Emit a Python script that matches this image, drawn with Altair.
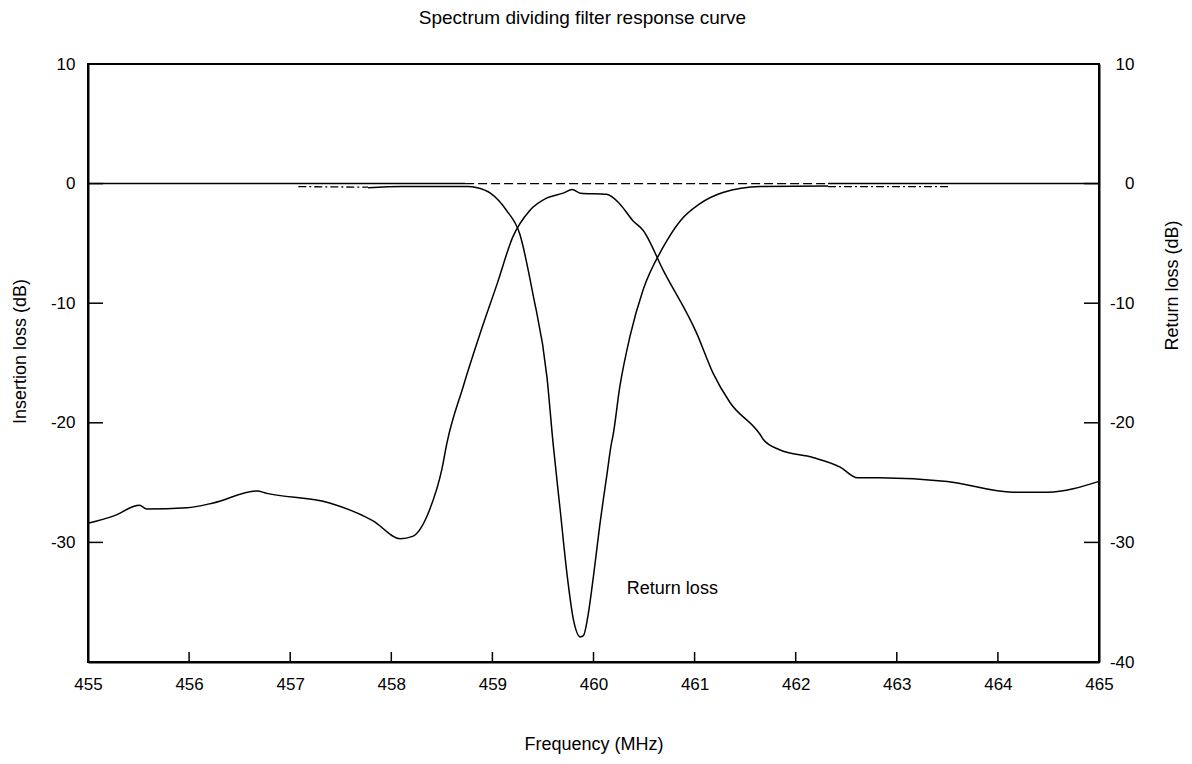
import altair as alt
import pandas as pd

# ---- data ----
# Curve A: low-side passband, falling into the return-loss dip, then rising to the high-side passband
A_FREQ = [457.77, 458.10, 458.75, 458.85, 458.98, 459.14, 459.27, 459.40, 459.54, 459.60,
          459.67, 459.74, 459.80, 459.87, 459.90, 459.94, 460.00, 460.06, 460.13, 460.18,
          460.19, 460.26, 460.36, 460.49, 460.69, 460.86, 461.05, 461.28, 461.65, 462.32]
A_LOSS = [-0.35, -0.25, -0.25, -0.35, -0.8, -2.25, -4.2, -9.2, -16.2, -21.7,
          -27.25, -32.8, -36.4, -37.9, -37.8, -36.4, -32.8, -28.7, -24.5, -21.6,
          -21.2, -17.0, -12.8, -8.9, -5.3, -3.1, -1.7, -0.75, -0.25, -0.2]

# Curve B: centre channel, low at both edges, passband around 460 MHz
B_FREQ = [455.00, 455.25, 455.51, 455.58, 455.98, 456.24, 456.67, 456.77, 457.39, 457.82,
          458.09, 458.21, 458.38, 458.50, 458.55, 458.71, 458.88, 459.05, 459.20, 459.37,
          459.54, 459.70, 459.79, 459.87, 460.13, 460.26, 460.39, 460.49, 460.69, 461.02,
          461.18, 461.35, 461.65, 461.68, 461.84, 462.17, 462.44, 462.61, 462.83, 463.50,
          464.15, 464.49, 465.00]
B_LOSS = [-28.4, -27.8, -26.9, -27.2, -27.1, -26.7, -25.7, -25.9, -26.7, -28.2,
          -29.7, -29.5, -27.25, -23.9, -21.7, -17.0, -12.5, -8.3, -4.5, -2.25,
          -1.2, -0.8, -0.5, -0.8, -0.9, -1.7, -3.1, -3.9, -7.25, -12.5,
          -15.8, -18.3, -21.0, -21.4, -22.25, -22.9, -23.7, -24.6, -24.6, -24.9,
          -25.8, -25.8, -24.9]

# dash-dot extensions of curve A's passbands
EXT_LOW_FREQ = [457.08, 457.77]
EXT_LOW_LOSS = [-0.25, -0.3]
EXT_HIGH_FREQ = [462.32, 463.51]
EXT_HIGH_LOSS = [-0.25, -0.25]

# 0 dB reference line pieces
ZERO_SOLID_1 = [455.0, 458.73]
ZERO_DASHED = [458.73, 462.32]
ZERO_SOLID_2 = [462.32, 465.0]

X_TICKS = [455, 456, 457, 458, 459, 460, 461, 462, 463, 464, 465]
LEFT_TICKS = [10, 0, -10, -20, -30]
RIGHT_TICKS = [10, 0, -10, -20, -30, -40]

ANNOT_TEXT = ["Return loss"]
ANNOT_FREQ = [460.78]
ANNOT_LOSS = [-33.9]

W, H = 1011, 598
FONT = "Liberation Sans"


def frame(name, xs, ys):
    return pd.DataFrame({"f": xs, "db": ys, "series": name, "i": list(range(len(xs)))})


solid_df = pd.concat([
    frame("A", A_FREQ, A_LOSS),
    frame("B", B_FREQ, B_LOSS),
], ignore_index=True)
zero_df = pd.concat([
    frame("zero1", ZERO_SOLID_1, [0, 0]),
    frame("zero2", ZERO_SOLID_2, [0, 0]),
], ignore_index=True)
dashed_df = frame("zero_dash", ZERO_DASHED, [0, 0])
dashdot_df = pd.concat([
    frame("ext_low", EXT_LOW_FREQ, EXT_LOW_LOSS),
    frame("ext_high", EXT_HIGH_FREQ, EXT_HIGH_LOSS),
], ignore_index=True)

xs = alt.Scale(domain=[455, 465], nice=False, zero=False)
ys = alt.Scale(domain=[-40, 10], nice=False, zero=False)

x_axis = alt.Axis(values=X_TICKS, ticks=False, grid=False, labelPadding=14,
                  labelFlush=False,
                  title="Frequency (MHz)", titleY=82, titleBaseline="middle",
                  labelExpr="datum.value + ''")
left_axis = alt.Axis(orient="left", values=LEFT_TICKS, ticks=False, grid=False,
                     labelPadding=13, title="Insertion loss (dB)",
                     labelExpr="datum.value + ''", labelFlush=False,
                     titleX=-68, titleY=287, titleBaseline="middle")
right_axis = alt.Axis(orient="right", values=RIGHT_TICKS, ticks=False, grid=False,
                      labelPadding=35, labelAlign="right", title="Return loss (dB)",
                      labelExpr="datum.value + ''", labelFlush=False,
                      titleAngle=270, titleX=73, titleY=221, titleBaseline="middle")

X = alt.X("f:Q", scale=xs, axis=x_axis)

solid = alt.Chart(solid_df).mark_line(color="black", strokeWidth=1.5,
                                      interpolate="monotone").encode(
    x=X,
    y=alt.Y("db:Q", scale=ys, axis=left_axis),
    detail="series:N",
    order="i:Q",
)

zero = alt.Chart(zero_df).mark_line(color="black", strokeWidth=1.5).encode(
    x=X,
    y=alt.Y("db:Q", scale=ys, axis=None),
    detail="series:N",
    order="i:Q",
)

right_ticks = alt.Chart(pd.DataFrame({"v": RIGHT_TICKS})).mark_rule(
    color="black", strokeWidth=1.5).encode(
    y=alt.Y("v:Q", scale=ys, axis=right_axis),
    x=alt.value(W),
    x2=alt.value(W - 15),
)

dashed = alt.Chart(dashed_df).mark_line(color="black", strokeWidth=1.3,
                                        strokeDash=[9, 4]).encode(
    x=X,
    y=alt.Y("db:Q", scale=ys, axis=None),
    order="i:Q",
)

dashdot = alt.Chart(dashdot_df).mark_line(color="black", strokeWidth=1.3,
                                          strokeDash=[8, 3, 2, 3]).encode(
    x=X,
    y=alt.Y("db:Q", scale=ys, axis=None),
    detail="series:N",
    order="i:Q",
)

left_ticks = alt.Chart(pd.DataFrame({"v": LEFT_TICKS})).mark_rule(
    color="black", strokeWidth=1.5).encode(
    y=alt.Y("v:Q", scale=ys, axis=None),
    x=alt.value(0),
    x2=alt.value(15),
)

bottom_ticks = alt.Chart(pd.DataFrame({"f": X_TICKS})).mark_rule(
    color="black", strokeWidth=1.5).encode(
    x=X,
    y=alt.value(H),
    y2=alt.value(H - 10),
)

annot = alt.Chart(pd.DataFrame({"t": ANNOT_TEXT, "f": ANNOT_FREQ, "db": ANNOT_LOSS})).mark_text(
    font=FONT, fontSize=18, color="black", align="center", baseline="middle").encode(
    x=X,
    y=alt.Y("db:Q", scale=ys, axis=None),
    text="t:N",
)

chart = alt.layer(
    solid, right_ticks, zero, dashed, dashdot, left_ticks, bottom_ticks, annot
).resolve_scale(y="independent").properties(
    width=W, height=H,
    title=alt.TitleParams("Spectrum dividing filter response curve", font=FONT,
                          fontSize=19, fontWeight="normal", color="black",
                          anchor="middle", dx=-11, offset=27),
    autosize=alt.AutoSizeParams(type="none"),
    padding={"left": 80, "top": 56, "right": 85, "bottom": 93},
).configure_view(stroke="black", strokeWidth=2).configure_axis(
    domainColor="black", domainWidth=2, labelFont=FONT, labelFontSize=17,
    labelColor="black", titleFont=FONT, titleFontSize=18, titleFontWeight="normal",
    titleColor="black",
)

chart.save("out.html", embed_options={"renderer": "svg", "actions": False})
